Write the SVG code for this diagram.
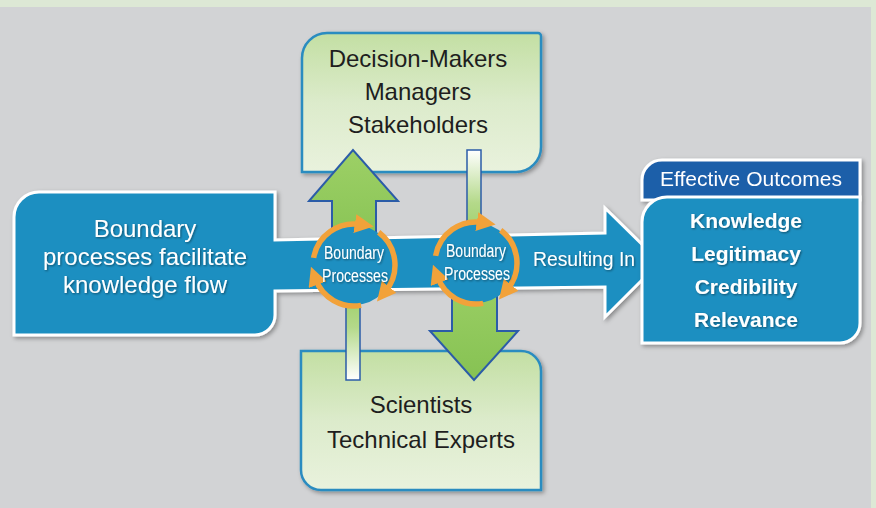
<svg xmlns="http://www.w3.org/2000/svg" width="876" height="508" viewBox="0 0 876 508">
<defs>
<style>
.lbl{font-family:"Liberation Sans",Arial,sans-serif;text-anchor:middle}
.dark{fill:#1e1e1e;font-size:24px}
.white{fill:#ffffff}
.bold{font-weight:bold;font-size:21px}
.gbox{stroke:#2a8cc0;stroke-width:2.5}
.garrow{fill:url(#gArrow);stroke:#2b5ca8;stroke-width:2}
.bar{stroke:#2b5ca8;stroke-width:1.5}
.ring{fill:none;stroke:#f2a23a;stroke-width:5.5;marker-end:url(#oh)}
.blue{fill:#1d8fc1}
</style>
<linearGradient id="gBox" x1="0" y1="0" x2="0" y2="1">
<stop offset="0" stop-color="#c3dfa3"/><stop offset="0.5" stop-color="#dcebcb"/><stop offset="1" stop-color="#e9f2dd"/>
</linearGradient>
<linearGradient id="gArrow" x1="0" y1="0" x2="0" y2="1">
<stop offset="0" stop-color="#9dd066"/><stop offset="1" stop-color="#86c253"/>
</linearGradient>
<linearGradient id="gBarDown" x1="0" y1="0" x2="0" y2="1">
<stop offset="0" stop-color="#ffffff"/><stop offset="0.6" stop-color="#b4d98a"/><stop offset="1" stop-color="#9ccf66"/>
</linearGradient>
<linearGradient id="gBarUp" x1="0" y1="0" x2="0" y2="1">
<stop offset="0" stop-color="#9ccf66"/><stop offset="0.4" stop-color="#b4d98a"/><stop offset="1" stop-color="#ffffff"/>
</linearGradient>
<filter id="sh" x="-10%" y="-10%" width="130%" height="130%">
<feDropShadow dx="2" dy="2" stdDeviation="2" flood-color="#000" flood-opacity="0.35"/>
</filter>
<filter id="tsh" x="-10%" y="-20%" width="130%" height="150%">
<feDropShadow dx="1" dy="1" stdDeviation="1" flood-color="#000" flood-opacity="0.45"/>
</filter>
<marker id="oh" viewBox="0 0 10 10" refX="3" refY="5" markerWidth="19" markerHeight="19" markerUnits="userSpaceOnUse" orient="auto">
<path d="M0,0 L10,5 L0,10 Z" fill="#f2a23a"/>
</marker>
</defs>

<rect x="0" y="0" width="876" height="508" fill="#d2d3d5"/>
<rect x="0" y="0" width="876" height="7" fill="#dde8d5"/>
<rect x="871" y="7" width="5" height="501" fill="#dde8d5"/>

<g id="decision-makers">
<path class="gbox" fill="url(#gBox)" filter="url(#sh)" d="M302,58 A25,25 0 0 1 327,33 L538,33 A3,3 0 0 1 541,36 L541,147 A25,25 0 0 1 516,172 L302,172 Z"/>
<text class="lbl dark" x="418" y="67">Decision-Makers</text>
<text class="lbl dark" x="418" y="100">Managers</text>
<text class="lbl dark" x="418" y="133">Stakeholders</text>
</g>

<g id="scientists">
<path class="gbox" fill="url(#gBox)" filter="url(#sh)" d="M301,351 L521,351 A20,20 0 0 1 541,371 L541,490 L321,490 A20,20 0 0 1 301,470 Z"/>
<text class="lbl dark" x="421" y="413">Scientists</text>
<text class="lbl dark" x="421" y="448">Technical Experts</text>
</g>

<g id="boundary-flow">
<path class="blue" stroke="#ffffff" stroke-width="3" stroke-linejoin="miter" filter="url(#sh)" d="M14,217 A25,25 0 0 1 39,192 L275,192 L275,240 L605,233 L605,208 L660,262 L605,317 L605,287 L275,291 L275,315 A20,20 0 0 1 255,335 L14,335 Z"/>
<g class="lbl white" font-size="24" filter="url(#tsh)">
<text x="145" y="237">Boundary</text>
<text x="145" y="265">processes facilitate</text>
<text x="145" y="293">knowledge flow</text>
</g>
</g>

<g id="effective-outcomes" filter="url(#sh)">
<path fill="#1f5ea9" stroke="#ffffff" stroke-width="3" d="M642,180 A20,20 0 0 1 662,160 L860,160 L860,200 L642,200 Z"/>
<path class="blue" stroke="#ffffff" stroke-width="3" d="M642,222 A25,25 0 0 1 667,197 L860,197 L860,323 A20,20 0 0 1 840,343 L642,343 Z"/>
<text class="lbl white" x="751" y="186" font-size="20" textLength="182" lengthAdjust="spacingAndGlyphs">Effective Outcomes</text>
<g class="lbl white bold" filter="url(#tsh)">
<text x="746" y="228">Knowledge</text>
<text x="746" y="261">Legitimacy</text>
<text x="746" y="294">Credibility</text>
<text x="746" y="327">Relevance</text>
</g>
</g>

<g id="connectors">
<path class="garrow" d="M332,255 L332,201 L309,201 L353,150 L398,201 L376,201 L376,255 Z"/>
<path class="garrow" d="M452,270 L452,331 L430,331 L474,380 L518,331 L497,331 L497,270 Z"/>
<rect class="bar" x="467" y="150" width="14" height="88" fill="url(#gBarDown)"/>
<rect class="bar" x="346" y="292" width="14" height="88" fill="url(#gBarUp)"/>
<text class="lbl white" x="584" y="266" font-size="20" textLength="102" lengthAdjust="spacingAndGlyphs" filter="url(#tsh)">Resulting In</text>
</g>

<g id="boundary-process-1" transform="translate(354,265)">
<circle class="blue" r="40"/>
<path class="ring" d="M-40.4,-7.1 A41,41 0 0 1 6.5,-40.5"/>
<path class="ring" d="M24.7,-32.7 A41,41 0 0 1 31.5,26.2"/>
<path class="ring" d="M7.1,40.4 A41,41 0 0 1 -38.4,14.3"/>
<g class="lbl white" font-size="18" filter="url(#tsh)">
<text x="0" y="-6" textLength="60" lengthAdjust="spacingAndGlyphs">Boundary</text>
<text x="1" y="17" textLength="66" lengthAdjust="spacingAndGlyphs">Processes</text>
</g>
</g>

<g id="boundary-process-2" transform="translate(476,263)">
<circle class="blue" r="40"/>
<path class="ring" d="M-40.4,-7.1 A41,41 0 0 1 6.5,-40.5"/>
<path class="ring" d="M24.7,-32.7 A41,41 0 0 1 31.5,26.2"/>
<path class="ring" d="M7.1,40.4 A41,41 0 0 1 -38.4,14.3"/>
<g class="lbl white" font-size="18" filter="url(#tsh)">
<text x="0" y="-6" textLength="60" lengthAdjust="spacingAndGlyphs">Boundary</text>
<text x="1" y="17" textLength="66" lengthAdjust="spacingAndGlyphs">Processes</text>
</g>
</g>
</svg>
